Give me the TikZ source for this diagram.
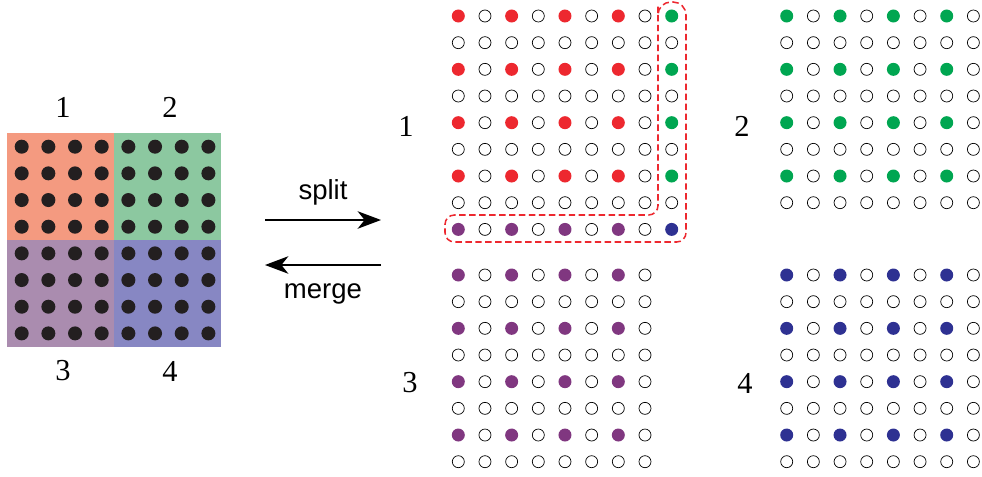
\documentclass[tikz,border=0pt]{standalone}
\usepackage{fontspec}
\setmainfont{Liberation Serif}
\setsansfont{Liberation Sans}
\usetikzlibrary{arrows.meta}

\definecolor{dotred}{RGB}{237,40,47}
\definecolor{dotgreen}{RGB}{0,166,81}
\definecolor{dotpurple}{RGB}{128,55,128}
\definecolor{dotblue}{RGB}{46,49,146}
\definecolor{dotblack}{RGB}{35,31,32}
\definecolor{qsalmon}{RGB}{244,154,128}
\definecolor{qgreen}{RGB}{140,200,160}
\definecolor{qpurple}{RGB}{170,140,175}
\definecolor{qblue}{RGB}{135,135,195}

% one 8x8 sub-grid: name, x, y, colour
\newcommand{\subgrid}[4]{%
  \foreach \i in {0,2,4,6}
    \foreach \j in {0,2,4,6}
      \node[fulldot=#4] (#1-\i-\j) at ({#2+26.67*\i},{#3+26.67*\j}) {};
  \foreach \i in {0,...,7}
    \foreach \j in {1,3,5,7}
      \node[opendot] (#1-\i-\j) at ({#2+26.67*\i},{#3+26.67*\j}) {};
  \foreach \i in {1,3,5,7}
    \foreach \j in {0,2,4,6}
      \node[opendot] (#1-\i-\j) at ({#2+26.67*\i},{#3+26.67*\j}) {};
}

\begin{document}
\begin{tikzpicture}[x=0.03cm,y=-0.03cm,
  fulldot/.style={circle,fill=#1,inner sep=0pt,minimum size=0.39cm},
  opendot/.style={circle,draw=black,line width=0.6pt,inner sep=0pt,minimum size=0.36cm},
  bigdot/.style={circle,fill=dotblack,inner sep=0pt,minimum size=0.42cm},
  numlabel/.style={font=\fontsize{26}{30}\selectfont},
  wordlabel/.style={font=\sffamily\fontsize{23.5}{28}\selectfont},
  splitarrow/.style={line width=1.1pt,-{Stealth[length=20pt,width=15pt,inset=6pt]}},
  grouping/.style={draw=dotred,line width=1.3pt,dash pattern=on 5.5pt off 3pt,rounded corners=8pt}]
\useasboundingbox (0,0) rectangle (982,477);

% merged image
\fill[qsalmon] (7,133) rectangle (114,240);
\fill[qgreen] (114,133) rectangle (221,240);
\fill[qpurple] (7,240) rectangle (114,347);
\fill[qblue] (114,240) rectangle (221,347);
\foreach \i in {0,...,7}
  \foreach \j in {0,...,7}
    \node[bigdot] (m-\i-\j) at ({21.7+26.67*\i},{146.7+26.67*\j}) {};
\node(L1) [numlabel] at (63,107) {1};
\node(L2) [numlabel] at (170,107) {2};
\node(L3) [numlabel] at (63,371) {3};
\node(L4) [numlabel] at (170,371) {4};

% split / merge
\coordinate (SA) at (265,220);
\coordinate (SB) at (381,220);
\coordinate (MA) at (381,265);
\coordinate (MB) at (265,265);
\draw[splitarrow] (SA) -- (SB);
\draw[splitarrow] (MA) -- (MB);
\node(split) [wordlabel] at (323,192) {split};
\node(merge) [wordlabel] at (323,294) {merge};

% sub-images
\subgrid{A}{458.3}{16}{dotred}
\subgrid{B}{786.7}{16}{dotgreen}
\subgrid{C}{458.3}{275}{dotpurple}
\subgrid{D}{786.7}{275}{dotblue}

% overlap column and row of sub-image 1
\foreach \j in {0,2,4,6}
  \node[fulldot=dotgreen] (A-8-\j) at (671.7,{16+26.67*\j}) {};
\foreach \j in {1,3,5,7}
  \node[opendot] (A-8-\j) at (671.7,{16+26.67*\j}) {};
\foreach \i in {0,2,4,6}
  \node[fulldot=dotpurple] (A-\i-8) at ({458.3+26.67*\i},229.4) {};
\foreach \i in {1,3,5,7}
  \node[opendot] (A-\i-8) at ({458.3+26.67*\i},229.4) {};
\node[fulldot=dotblue] (A-8-8) at (671.7,229.4) {};

\draw[grouping] (658,16) [rounded corners=11pt] -- (658,2) -- (686,2) [rounded corners=8pt] -- (686,242) -- (445,242) -- (445,215) -- (658,215) -- cycle;

\node(R1) [numlabel] at (406,126) {1};
\node(R2) [numlabel] at (742,126) {2};
\node(R3) [numlabel] at (410,383) {3};
\node(R4) [numlabel] at (745,383) {4};
\end{tikzpicture}
\end{document}
